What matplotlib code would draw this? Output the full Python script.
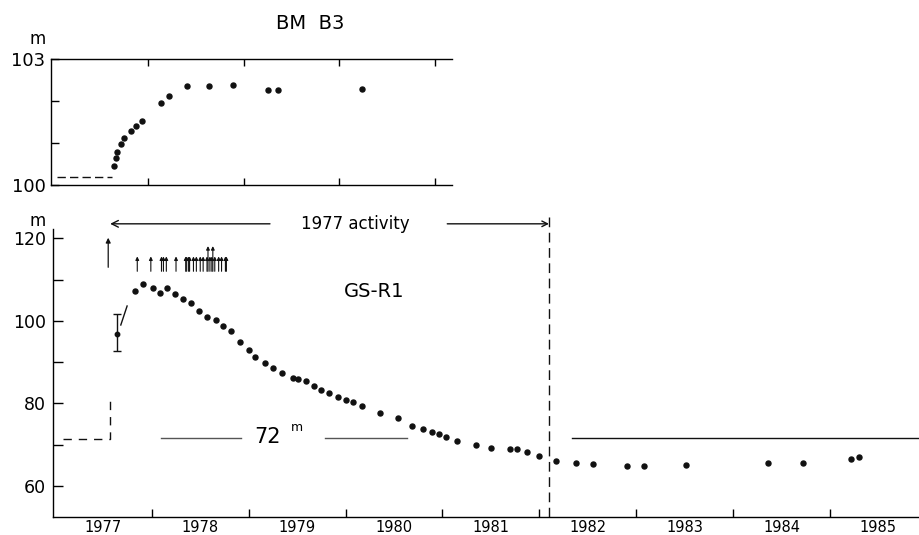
import matplotlib
matplotlib.use('Agg')
import matplotlib.pyplot as plt

# ---- BM B3 levelling (top panel) ----
bm_year = [1977.645, 1977.663, 1977.68, 1977.715, 1977.753, 1977.82, 1977.875, 1977.94,
           1978.136, 1978.223, 1978.41, 1978.64, 1978.89, 1979.26, 1979.36, 1980.24]
bm_height = [100.46, 100.64, 100.79, 100.97, 101.11, 101.29, 101.41, 101.52,
             101.95, 102.13, 102.36, 102.36, 102.38, 102.26, 102.26, 102.29]
bm_pre_year = [1977.05, 1977.62]
bm_pre_height = [100.2, 100.2]

# ---- GS-R1 (bottom panel) ----
gs_first_year = 1977.64
gs_first_height = 96.8
gs_first_lo, gs_first_hi = 92.8, 101.7

gs_year = [1977.826, 1977.912, 1978.01, 1978.084, 1978.16, 1978.24, 1978.32, 1978.40,
           1978.49, 1978.57, 1978.66, 1978.74, 1978.82, 1978.91, 1979.00, 1979.07,
           1979.17, 1979.25, 1979.34, 1979.46, 1979.51, 1979.59, 1979.67, 1979.75,
           1979.83, 1979.92, 1980.00, 1980.08, 1980.17, 1980.36, 1980.54, 1980.69,
           1980.80, 1980.89, 1980.96, 1981.04, 1981.15, 1981.35, 1981.50, 1981.70,
           1981.77, 1981.87, 1982.00, 1982.17, 1982.38, 1982.55, 1982.91, 1983.08,
           1983.51, 1984.36, 1984.72, 1985.22, 1985.30]
gs_height = [107.3, 108.9, 108.0, 106.7, 107.9, 106.4, 105.3, 104.4,
             102.5, 100.9, 100.2, 98.8, 97.5, 94.8, 92.9, 91.3,
             89.7, 88.5, 87.3, 86.1, 85.9, 85.4, 84.3, 83.3,
             82.6, 81.6, 80.8, 80.3, 79.5, 77.8, 76.4, 74.6,
             73.7, 73.2, 72.5, 71.8, 71.0, 69.9, 69.1, 68.9,
             68.9, 68.3, 67.3, 66.1, 65.7, 65.3, 64.9, 64.9,
             65.0, 65.6, 65.6, 66.5, 67.1]
gs_link_year = [1977.68, 1977.745]
gs_link_height = [99.0, 103.6]

# pre-activity level and jump
pre_year = [1977.08, 1977.57, 1977.57]
pre_height = [71.5, 71.5, 81.0]
level_72 = 71.6
level_72_left = [(1978.10, 1978.92), (1979.79, 1980.63)]
level_72_right = (1982.34, 1985.93)

# eruption markers
big_arrow_year = 1977.55
big_arrow_range = (112.3, 120.8)
eruption_year = [1977.85, 1977.99, 1978.10, 1978.12, 1978.15, 1978.25, 1978.35, 1978.36,
                 1978.38, 1978.39, 1978.43, 1978.46, 1978.50, 1978.53, 1978.57, 1978.58,
                 1978.60, 1978.62, 1978.63, 1978.65, 1978.69, 1978.72, 1978.76, 1978.77]
eruption_tall = [False] * 15 + [True, False, False, True] + [False] * 5

activity_start, activity_end = 1977.57, 1982.10

fig = plt.figure(figsize=(9.2, 5.35), dpi=100)
ink = '#111111'

# ============================================================
# top panel : BM B3
# ============================================================
ax1 = fig.add_axes([0.0554, 0.6542, 0.4359, 0.2355])
ax1.plot(bm_year, bm_height, 'o', color=ink, ms=3.6)
ax1.plot(bm_pre_year, bm_pre_height, color=ink, lw=1, dashes=(6, 3))
ax1.set_xlim(1976.986, 1981.18)
ax1.set_ylim(100, 103)
ax1.spines['right'].set_visible(False)
for s in ['left', 'top', 'bottom']:
    ax1.spines[s].set_linewidth(1)
ax1.set_xticks([1978, 1979, 1980, 1981])
ax1.set_xticklabels([])
ax1.tick_params(axis='x', direction='in', top=True, bottom=True, length=5, width=1)
ax1.set_yticks([100, 103])
ax1.set_yticks([101, 102], minor=True)
ax1.set_yticklabels(['100', '103'], fontsize=13)
ax1.tick_params(axis='y', which='both', direction='in', length=6, width=1, pad=4)
fig.text(0.337, 0.957, 'BM  B3', fontsize=14, ha='center', va='center')
fig.text(0.041, 0.927, 'm', fontsize=12, ha='center', va='center')

# ============================================================
# bottom panel : GS-R1
# ============================================================
ax2 = fig.add_axes([0.0576, 0.0336, 0.9424, 0.5384])
ax2.plot(gs_year, gs_height, 'o', color=ink, ms=3.6)
ax2.errorbar([gs_first_year], [gs_first_height],
             yerr=[[gs_first_height - gs_first_lo], [gs_first_hi - gs_first_height]],
             fmt='o', color=ink, ms=3.2, capsize=3, lw=1)
ax2.plot(gs_link_year, gs_link_height, color=ink, lw=1)
ax2.plot(pre_year, pre_height, color=ink, lw=1, dashes=(6, 5))
for x0, x1 in level_72_left:
    ax2.plot([x0, x1], [level_72, level_72], color='#555555', lw=1)
ax2.plot(level_72_right, [level_72, level_72], color=ink, lw=1, clip_on=False)
ax2.text(1979.19, 71.8, '72', fontsize=15, ha='center', va='center')
ax2.text(1979.50, 74.2, 'm', fontsize=9, ha='center', va='center')

# eruption arrows
ax2.annotate('', xy=(big_arrow_year, big_arrow_range[1]), xytext=(big_arrow_year, big_arrow_range[0]),
             arrowprops=dict(arrowstyle='-|>', color=ink, lw=0.9, mutation_scale=7))
for yr, tall in zip(eruption_year, eruption_tall):
    top = 118.1 if tall else 115.6
    ax2.annotate('', xy=(yr, top), xytext=(yr, 112.0),
                 arrowprops=dict(arrowstyle='-|>', color=ink, lw=0.8, mutation_scale=5,
                                 shrinkA=0, shrinkB=0))

# 1977 activity
ax2.axvline(activity_end, ymin=0, ymax=1.06, color=ink, lw=1, dashes=(7, 4), clip_on=False)
ax2.annotate('', xy=(activity_start, 123.5), xytext=(1979.22, 123.5),
             arrowprops=dict(arrowstyle='->', color=ink, lw=1, mutation_scale=12,
                             shrinkA=0, shrinkB=0), annotation_clip=False)
ax2.annotate('', xy=(activity_end, 123.5), xytext=(1981.05, 123.5),
             arrowprops=dict(arrowstyle='->', color=ink, lw=1, mutation_scale=10,
                             shrinkA=0, shrinkB=0), annotation_clip=False)
ax2.text(1980.10, 123.5, '1977 activity', fontsize=12, ha='center', va='center')
ax2.text(1980.30, 107.0, 'GS-R1', fontsize=14, ha='center', va='center')

ax2.set_xlim(1976.98, 1985.93)
ax2.set_ylim(52.5, 122.25)
ax2.spines['right'].set_visible(False)
ax2.spines['top'].set_visible(False)
ax2.spines['left'].set_linewidth(1)
ax2.spines['bottom'].set_linewidth(1)
ax2.set_xticks(range(1978, 1986))
ax2.set_xticklabels([])
ax2.set_xticks([y + 0.5 for y in range(1977, 1986)], minor=True)
ax2.set_xticklabels([str(y) for y in range(1977, 1986)], minor=True, fontsize=10.5)
ax2.tick_params(axis='x', which='major', direction='in', length=6, width=1)
ax2.tick_params(axis='x', which='minor', length=0, pad=2)
ax2.set_yticks([60, 80, 100, 120])
ax2.set_yticks([70, 90, 110], minor=True)
ax2.set_yticklabels(['60', '80', '100', '120'], fontsize=12.5)
ax2.tick_params(axis='y', which='both', direction='in', length=7, width=1, pad=5)
fig.text(0.041, 0.587, 'm', fontsize=12, ha='center', va='center')

fig.savefig('out.png', dpi=100, facecolor='white')
